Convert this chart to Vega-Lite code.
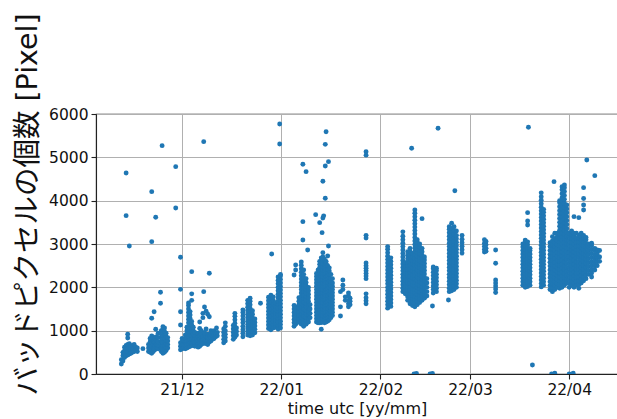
{
  "$schema": "https://vega.github.io/schema/vega-lite/v6.json",
  "width": 522,
  "height": 260,
  "autosize": {"type": "none"},
  "padding": {"left": 96, "top": 114, "right": 0, "bottom": 45},
  "background": "white",
  "config": {
    "view": {"stroke": "#222222", "strokeWidth": 1.1},
    "axis": {
      "domainColor": "#222222",
      "domainWidth": 1.1,
      "tickColor": "#222222",
      "tickSize": 5,
      "tickWidth": 1.1,
      "gridColor": "#b0b0b0",
      "gridWidth": 1,
      "labelFont": "DejaVu Sans",
      "labelFontSize": 15.5,
      "labelColor": "#111111",
      "titleFont": "DejaVu Sans",
      "titleFontSize": 16,
      "titleFontWeight": "normal",
      "titleColor": "#111111"
    }
  },
  "data": {
    "values": [
      {"t":"2021-11-12T00:00","v":230},{"t":"2021-11-12T00:00","v":330},
      {"t":"2021-11-12T12:00","v":300},{"t":"2021-11-12T12:00","v":420},{"t":"2021-11-12T12:00","v":500},
      {"t":"2021-11-13T00:00","v":380},{"t":"2021-11-13T00:00","v":460},{"t":"2021-11-13T00:00","v":540},{"t":"2021-11-13T00:00","v":620},
      {"t":"2021-11-13T12:00","v":420},{"t":"2021-11-13T12:00","v":500},{"t":"2021-11-13T12:00","v":580},{"t":"2021-11-13T12:00","v":660},{"t":"2021-11-13T12:00","v":4640},{"t":"2021-11-13T12:00","v":3654},
      {"t":"2021-11-14T00:00","v":440},{"t":"2021-11-14T00:00","v":520},{"t":"2021-11-14T00:00","v":600},{"t":"2021-11-14T00:00","v":680},{"t":"2021-11-14T00:00","v":830},{"t":"2021-11-14T00:00","v":920},
      {"t":"2021-11-14T12:00","v":460},{"t":"2021-11-14T12:00","v":540},{"t":"2021-11-14T12:00","v":620},{"t":"2021-11-14T12:00","v":700},{"t":"2021-11-14T12:00","v":2954},
      {"t":"2021-11-15T00:00","v":480},{"t":"2021-11-15T00:00","v":560},{"t":"2021-11-15T00:00","v":640},
      {"t":"2021-11-15T12:00","v":500},{"t":"2021-11-15T12:00","v":580},{"t":"2021-11-15T12:00","v":660},
      {"t":"2021-11-16T00:00","v":520},{"t":"2021-11-16T00:00","v":600},{"t":"2021-11-16T00:00","v":680},
      {"t":"2021-11-16T12:00","v":540},{"t":"2021-11-16T12:00","v":620},
      {"t":"2021-11-17T00:00","v":520},{"t":"2021-11-17T00:00","v":600},
      {"t":"2021-11-18T18:00","v":585},
      {"t":"2021-11-20T12:00","v":520},{"t":"2021-11-20T12:00","v":600},{"t":"2021-11-20T12:00","v":680},
      {"t":"2021-11-21T00:00","v":500},{"t":"2021-11-21T00:00","v":580},{"t":"2021-11-21T00:00","v":660},{"t":"2021-11-21T00:00","v":740},{"t":"2021-11-21T00:00","v":820},
      {"t":"2021-11-21T12:00","v":480},{"t":"2021-11-21T12:00","v":560},{"t":"2021-11-21T12:00","v":640},{"t":"2021-11-21T12:00","v":720},{"t":"2021-11-21T12:00","v":800},{"t":"2021-11-21T12:00","v":880},{"t":"2021-11-21T12:00","v":1285},{"t":"2021-11-21T12:00","v":3054},{"t":"2021-11-21T12:00","v":4208},
      {"t":"2021-11-22T00:00","v":520},{"t":"2021-11-22T00:00","v":600},{"t":"2021-11-22T00:00","v":680},{"t":"2021-11-22T00:00","v":760},{"t":"2021-11-22T00:00","v":850},
      {"t":"2021-11-22T06:00","v":1438},
      {"t":"2021-11-22T12:00","v":560},{"t":"2021-11-22T12:00","v":650},{"t":"2021-11-22T12:00","v":740},{"t":"2021-11-22T12:00","v":820},
      {"t":"2021-11-22T18:00","v":1031},{"t":"2021-11-22T18:00","v":3616},
      {"t":"2021-11-23T00:00","v":600},{"t":"2021-11-23T00:00","v":680},{"t":"2021-11-23T00:00","v":760},{"t":"2021-11-23T00:00","v":860},
      {"t":"2021-11-23T12:00","v":580},{"t":"2021-11-23T12:00","v":660},{"t":"2021-11-23T12:00","v":740},{"t":"2021-11-23T12:00","v":840},{"t":"2021-11-23T12:00","v":940},
      {"t":"2021-11-24T06:00","v":1631},{"t":"2021-11-24T06:00","v":1885},
      {"t":"2021-11-24T12:00","v":520},{"t":"2021-11-24T12:00","v":600},{"t":"2021-11-24T12:00","v":680},{"t":"2021-11-24T12:00","v":760},{"t":"2021-11-24T12:00","v":840},{"t":"2021-11-24T12:00","v":920},{"t":"2021-11-24T12:00","v":1000},
      {"t":"2021-11-24T18:00","v":5270},
      {"t":"2021-11-25T00:00","v":480},{"t":"2021-11-25T00:00","v":560},{"t":"2021-11-25T00:00","v":640},{"t":"2021-11-25T00:00","v":720},{"t":"2021-11-25T00:00","v":800},{"t":"2021-11-25T00:00","v":880},{"t":"2021-11-25T00:00","v":960},{"t":"2021-11-25T00:00","v":1040},{"t":"2021-11-25T00:00","v":1090},
      {"t":"2021-11-25T12:00","v":500},{"t":"2021-11-25T12:00","v":580},{"t":"2021-11-25T12:00","v":660},{"t":"2021-11-25T12:00","v":740},{"t":"2021-11-25T12:00","v":820},{"t":"2021-11-25T12:00","v":900},{"t":"2021-11-25T12:00","v":980},{"t":"2021-11-25T12:00","v":1060},
      {"t":"2021-11-26T00:00","v":540},{"t":"2021-11-26T00:00","v":620},{"t":"2021-11-26T00:00","v":700},{"t":"2021-11-26T00:00","v":780},{"t":"2021-11-26T00:00","v":860},{"t":"2021-11-26T00:00","v":940},
      {"t":"2021-11-26T12:00","v":600},{"t":"2021-11-26T12:00","v":680},{"t":"2021-11-26T12:00","v":760},{"t":"2021-11-26T12:00","v":840},
      {"t":"2021-11-29T00:00","v":4785},{"t":"2021-11-29T00:00","v":3831},
      {"t":"2021-11-30T12:00","v":2693},{"t":"2021-11-30T12:00","v":1954},{"t":"2021-11-30T12:00","v":1438},{"t":"2021-11-30T12:00","v":1131},{"t":"2021-11-30T12:00","v":560},{"t":"2021-11-30T12:00","v":640},{"t":"2021-11-30T12:00","v":720},
      {"t":"2021-12-01T00:00","v":580},{"t":"2021-12-01T00:00","v":660},{"t":"2021-12-01T00:00","v":740},{"t":"2021-12-01T00:00","v":820},
      {"t":"2021-12-01T12:00","v":600},{"t":"2021-12-01T12:00","v":680},{"t":"2021-12-01T12:00","v":760},
      {"t":"2021-12-02T00:00","v":580},{"t":"2021-12-02T00:00","v":660},{"t":"2021-12-02T00:00","v":740},{"t":"2021-12-02T00:00","v":820},{"t":"2021-12-02T00:00","v":900},
      {"t":"2021-12-02T12:00","v":600},{"t":"2021-12-02T12:00","v":680},{"t":"2021-12-02T12:00","v":760},{"t":"2021-12-02T12:00","v":840},{"t":"2021-12-02T12:00","v":920},{"t":"2021-12-02T12:00","v":1000},{"t":"2021-12-02T12:00","v":1080},
      {"t":"2021-12-03T00:00","v":620},{"t":"2021-12-03T00:00","v":700},{"t":"2021-12-03T00:00","v":780},{"t":"2021-12-03T00:00","v":860},{"t":"2021-12-03T00:00","v":940},{"t":"2021-12-03T00:00","v":1020},{"t":"2021-12-03T00:00","v":1100},{"t":"2021-12-03T00:00","v":1180},{"t":"2021-12-03T00:00","v":1260},{"t":"2021-12-03T00:00","v":1340},{"t":"2021-12-03T00:00","v":1420},{"t":"2021-12-03T00:00","v":1500},{"t":"2021-12-03T00:00","v":1580},{"t":"2021-12-03T00:00","v":1640},
      {"t":"2021-12-03T12:00","v":640},{"t":"2021-12-03T12:00","v":720},{"t":"2021-12-03T12:00","v":800},{"t":"2021-12-03T12:00","v":880},{"t":"2021-12-03T12:00","v":960},{"t":"2021-12-03T12:00","v":1040},{"t":"2021-12-03T12:00","v":1120},{"t":"2021-12-03T12:00","v":1200},{"t":"2021-12-03T12:00","v":1280},{"t":"2021-12-03T12:00","v":1360},{"t":"2021-12-03T12:00","v":1440},
      {"t":"2021-12-04T00:00","v":650},{"t":"2021-12-04T00:00","v":730},{"t":"2021-12-04T00:00","v":810},{"t":"2021-12-04T00:00","v":890},{"t":"2021-12-04T00:00","v":970},{"t":"2021-12-04T00:00","v":1050},{"t":"2021-12-04T00:00","v":1130},{"t":"2021-12-04T00:00","v":1210},{"t":"2021-12-04T00:00","v":1700},{"t":"2021-12-04T00:00","v":1850},{"t":"2021-12-04T00:00","v":2362},
      {"t":"2021-12-04T12:00","v":680},{"t":"2021-12-04T12:00","v":760},{"t":"2021-12-04T12:00","v":840},{"t":"2021-12-04T12:00","v":920},{"t":"2021-12-04T12:00","v":1000},{"t":"2021-12-04T12:00","v":1080},
      {"t":"2021-12-05T00:00","v":640},{"t":"2021-12-05T00:00","v":720},{"t":"2021-12-05T00:00","v":800},{"t":"2021-12-05T00:00","v":880},{"t":"2021-12-05T00:00","v":960},
      {"t":"2021-12-05T12:00","v":660},{"t":"2021-12-05T12:00","v":740},{"t":"2021-12-05T12:00","v":820},
      {"t":"2021-12-06T00:00","v":620},{"t":"2021-12-06T00:00","v":700},{"t":"2021-12-06T00:00","v":780},{"t":"2021-12-06T00:00","v":860},{"t":"2021-12-06T00:00","v":940},
      {"t":"2021-12-06T12:00","v":640},{"t":"2021-12-06T12:00","v":720},{"t":"2021-12-06T12:00","v":800},{"t":"2021-12-06T12:00","v":880},{"t":"2021-12-06T12:00","v":1050},{"t":"2021-12-06T12:00","v":1200},
      {"t":"2021-12-07T00:00","v":680},{"t":"2021-12-07T00:00","v":760},{"t":"2021-12-07T00:00","v":840},{"t":"2021-12-07T00:00","v":920},{"t":"2021-12-07T00:00","v":1000},
      {"t":"2021-12-07T12:00","v":700},{"t":"2021-12-07T12:00","v":780},{"t":"2021-12-07T12:00","v":860},{"t":"2021-12-07T12:00","v":1300},{"t":"2021-12-07T12:00","v":1400},
      {"t":"2021-12-07T18:00","v":5362},{"t":"2021-12-07T18:00","v":1900},
      {"t":"2021-12-08T00:00","v":720},{"t":"2021-12-08T00:00","v":800},{"t":"2021-12-08T00:00","v":880},{"t":"2021-12-08T00:00","v":960},{"t":"2021-12-08T00:00","v":1546},
      {"t":"2021-12-08T12:00","v":700},{"t":"2021-12-08T12:00","v":780},{"t":"2021-12-08T12:00","v":860},{"t":"2021-12-08T12:00","v":1040},{"t":"2021-12-08T12:00","v":1450},
      {"t":"2021-12-09T00:00","v":680},{"t":"2021-12-09T00:00","v":760},{"t":"2021-12-09T00:00","v":840},{"t":"2021-12-09T00:00","v":920},{"t":"2021-12-09T00:00","v":1380},
      {"t":"2021-12-09T12:00","v":740},{"t":"2021-12-09T12:00","v":820},{"t":"2021-12-09T12:00","v":900},{"t":"2021-12-09T12:00","v":1320},{"t":"2021-12-09T12:00","v":2324},
      {"t":"2021-12-10T00:00","v":760},{"t":"2021-12-10T00:00","v":840},{"t":"2021-12-10T00:00","v":920},{"t":"2021-12-10T00:00","v":1000},
      {"t":"2021-12-10T12:00","v":800},{"t":"2021-12-10T12:00","v":880},{"t":"2021-12-10T12:00","v":960},
      {"t":"2021-12-11T00:00","v":820},{"t":"2021-12-11T00:00","v":900},{"t":"2021-12-11T00:00","v":1000},
      {"t":"2021-12-11T12:00","v":860},{"t":"2021-12-11T12:00","v":940},
      {"t":"2021-12-11T18:00","v":1062},
      {"t":"2021-12-12T00:00","v":880},{"t":"2021-12-12T00:00","v":960},
      {"t":"2021-12-14T00:00","v":720},{"t":"2021-12-14T00:00","v":800},{"t":"2021-12-14T00:00","v":880},{"t":"2021-12-14T00:00","v":960},{"t":"2021-12-14T00:00","v":1040},
      {"t":"2021-12-14T12:00","v":760},{"t":"2021-12-14T12:00","v":840},{"t":"2021-12-14T12:00","v":920},{"t":"2021-12-14T12:00","v":1000},{"t":"2021-12-14T12:00","v":1100},{"t":"2021-12-14T12:00","v":1180},
      {"t":"2021-12-17T00:00","v":800},{"t":"2021-12-17T00:00","v":880},{"t":"2021-12-17T00:00","v":960},{"t":"2021-12-17T00:00","v":1040},{"t":"2021-12-17T00:00","v":1120},
      {"t":"2021-12-17T12:00","v":850},{"t":"2021-12-17T12:00","v":930},{"t":"2021-12-17T12:00","v":1010},{"t":"2021-12-17T12:00","v":1090},{"t":"2021-12-17T12:00","v":1170},{"t":"2021-12-17T12:00","v":1250},{"t":"2021-12-17T12:00","v":1330},{"t":"2021-12-17T12:00","v":1400},
      {"t":"2021-12-18T00:00","v":900},{"t":"2021-12-18T00:00","v":980},{"t":"2021-12-18T00:00","v":1060},
      {"t":"2021-12-20T00:00","v":860},{"t":"2021-12-20T00:00","v":940},{"t":"2021-12-20T00:00","v":1020},{"t":"2021-12-20T00:00","v":1100},{"t":"2021-12-20T00:00","v":1180},{"t":"2021-12-20T00:00","v":1260},{"t":"2021-12-20T00:00","v":1340},{"t":"2021-12-20T00:00","v":1420},{"t":"2021-12-20T00:00","v":1480},
      {"t":"2021-12-21T12:00","v":900},{"t":"2021-12-21T12:00","v":980},{"t":"2021-12-21T12:00","v":1060},{"t":"2021-12-21T12:00","v":1140},{"t":"2021-12-21T12:00","v":1220},{"t":"2021-12-21T12:00","v":1300},{"t":"2021-12-21T12:00","v":1380},{"t":"2021-12-21T12:00","v":1460},{"t":"2021-12-21T12:00","v":1540},{"t":"2021-12-21T12:00","v":1620},{"t":"2021-12-21T12:00","v":1700},
      {"t":"2021-12-22T06:00","v":880},{"t":"2021-12-22T06:00","v":960},{"t":"2021-12-22T06:00","v":1040},{"t":"2021-12-22T06:00","v":1120},{"t":"2021-12-22T06:00","v":1200},{"t":"2021-12-22T06:00","v":1280},{"t":"2021-12-22T06:00","v":1360},{"t":"2021-12-22T06:00","v":1440},{"t":"2021-12-22T06:00","v":1520},{"t":"2021-12-22T06:00","v":1600},{"t":"2021-12-22T06:00","v":1680},{"t":"2021-12-22T06:00","v":1750},
      {"t":"2021-12-23T00:00","v":900},{"t":"2021-12-23T00:00","v":980},{"t":"2021-12-23T00:00","v":1060},{"t":"2021-12-23T00:00","v":1140},{"t":"2021-12-23T00:00","v":1220},{"t":"2021-12-23T00:00","v":1300},{"t":"2021-12-23T00:00","v":1380},{"t":"2021-12-23T00:00","v":1460},
      {"t":"2021-12-23T18:00","v":950},{"t":"2021-12-23T18:00","v":1030},{"t":"2021-12-23T18:00","v":1110},{"t":"2021-12-23T18:00","v":1190},{"t":"2021-12-23T18:00","v":1270},
      {"t":"2021-12-25T12:00","v":1631},
      {"t":"2021-12-28T00:00","v":1050},{"t":"2021-12-28T00:00","v":1130},{"t":"2021-12-28T00:00","v":1210},{"t":"2021-12-28T00:00","v":1290},{"t":"2021-12-28T00:00","v":1370},{"t":"2021-12-28T00:00","v":1450},{"t":"2021-12-28T00:00","v":1530},{"t":"2021-12-28T00:00","v":1610},{"t":"2021-12-28T00:00","v":1690},{"t":"2021-12-28T00:00","v":1770},
      {"t":"2021-12-28T18:00","v":1020},{"t":"2021-12-28T18:00","v":1100},{"t":"2021-12-28T18:00","v":1180},{"t":"2021-12-28T18:00","v":1260},{"t":"2021-12-28T18:00","v":1340},{"t":"2021-12-28T18:00","v":1420},{"t":"2021-12-28T18:00","v":1500},{"t":"2021-12-28T18:00","v":1580},{"t":"2021-12-28T18:00","v":1660},{"t":"2021-12-28T18:00","v":1740},{"t":"2021-12-28T18:00","v":1820},
      {"t":"2021-12-29T00:00","v":2770},
      {"t":"2021-12-29T12:00","v":1060},{"t":"2021-12-29T12:00","v":1140},{"t":"2021-12-29T12:00","v":1220},{"t":"2021-12-29T12:00","v":1300},{"t":"2021-12-29T12:00","v":1380},{"t":"2021-12-29T12:00","v":1460},{"t":"2021-12-29T12:00","v":1540},{"t":"2021-12-29T12:00","v":1620},{"t":"2021-12-29T12:00","v":1700},{"t":"2021-12-29T12:00","v":1780},
      {"t":"2021-12-30T06:00","v":1080},{"t":"2021-12-30T06:00","v":1160},{"t":"2021-12-30T06:00","v":1240},{"t":"2021-12-30T06:00","v":1320},{"t":"2021-12-30T06:00","v":1400},{"t":"2021-12-30T06:00","v":1480},{"t":"2021-12-30T06:00","v":1560},{"t":"2021-12-30T06:00","v":1640},
      {"t":"2021-12-31T00:00","v":1040},{"t":"2021-12-31T00:00","v":1120},{"t":"2021-12-31T00:00","v":1200},{"t":"2021-12-31T00:00","v":1280},{"t":"2021-12-31T00:00","v":1360},{"t":"2021-12-31T00:00","v":1440},{"t":"2021-12-31T00:00","v":1520},{"t":"2021-12-31T00:00","v":1600},{"t":"2021-12-31T00:00","v":1680},{"t":"2021-12-31T00:00","v":1760},{"t":"2021-12-31T00:00","v":1840},{"t":"2021-12-31T00:00","v":1920},{"t":"2021-12-31T00:00","v":2000},{"t":"2021-12-31T00:00","v":2080},{"t":"2021-12-31T00:00","v":2160},{"t":"2021-12-31T00:00","v":2240},
      {"t":"2021-12-31T12:00","v":5770},{"t":"2021-12-31T12:00","v":5308},
      {"t":"2021-12-31T18:00","v":1060},{"t":"2021-12-31T18:00","v":1140},{"t":"2021-12-31T18:00","v":1220},{"t":"2021-12-31T18:00","v":1300},{"t":"2021-12-31T18:00","v":1380},{"t":"2021-12-31T18:00","v":1460},{"t":"2021-12-31T18:00","v":1540},{"t":"2021-12-31T18:00","v":1620},{"t":"2021-12-31T18:00","v":1700},{"t":"2021-12-31T18:00","v":1780},{"t":"2021-12-31T18:00","v":1860},{"t":"2021-12-31T18:00","v":1940},{"t":"2021-12-31T18:00","v":2020},{"t":"2021-12-31T18:00","v":2100},{"t":"2021-12-31T18:00","v":2180},{"t":"2021-12-31T18:00","v":2260},{"t":"2021-12-31T18:00","v":2300},
      {"t":"2022-01-05T00:00","v":1100},{"t":"2022-01-05T00:00","v":1180},{"t":"2022-01-05T00:00","v":1260},{"t":"2022-01-05T00:00","v":1340},{"t":"2022-01-05T00:00","v":1420},{"t":"2022-01-05T00:00","v":1500},{"t":"2022-01-05T00:00","v":1580},{"t":"2022-01-05T00:00","v":2285},
      {"t":"2022-01-05T12:00","v":1150},{"t":"2022-01-05T12:00","v":1230},{"t":"2022-01-05T12:00","v":1310},{"t":"2022-01-05T12:00","v":1390},{"t":"2022-01-05T12:00","v":1470},{"t":"2022-01-05T12:00","v":1550},{"t":"2022-01-05T12:00","v":2400},{"t":"2022-01-05T12:00","v":2516},
      {"t":"2022-01-06T12:00","v":1200},{"t":"2022-01-06T12:00","v":1280},{"t":"2022-01-06T12:00","v":1360},{"t":"2022-01-06T12:00","v":1440},{"t":"2022-01-06T12:00","v":1520},{"t":"2022-01-06T12:00","v":1600},{"t":"2022-01-06T12:00","v":1680},{"t":"2022-01-06T12:00","v":1760},
      {"t":"2022-01-07T06:00","v":1150},{"t":"2022-01-07T06:00","v":1230},{"t":"2022-01-07T06:00","v":1310},{"t":"2022-01-07T06:00","v":1390},{"t":"2022-01-07T06:00","v":1470},{"t":"2022-01-07T06:00","v":1550},{"t":"2022-01-07T06:00","v":1630},{"t":"2022-01-07T06:00","v":1710},{"t":"2022-01-07T06:00","v":1790},{"t":"2022-01-07T06:00","v":1870},{"t":"2022-01-07T06:00","v":1950},{"t":"2022-01-07T06:00","v":2030},{"t":"2022-01-07T06:00","v":2110},{"t":"2022-01-07T06:00","v":2190},{"t":"2022-01-07T06:00","v":2270},{"t":"2022-01-07T06:00","v":2350},{"t":"2022-01-07T06:00","v":2430},{"t":"2022-01-07T06:00","v":2510},{"t":"2022-01-07T06:00","v":2585},
      {"t":"2022-01-07T18:00","v":4840},{"t":"2022-01-07T18:00","v":3516},{"t":"2022-01-07T18:00","v":3093},
      {"t":"2022-01-08T00:00","v":1100},{"t":"2022-01-08T00:00","v":1180},{"t":"2022-01-08T00:00","v":1260},{"t":"2022-01-08T00:00","v":1340},{"t":"2022-01-08T00:00","v":1420},{"t":"2022-01-08T00:00","v":1500},{"t":"2022-01-08T00:00","v":1580},{"t":"2022-01-08T00:00","v":1660},{"t":"2022-01-08T00:00","v":1740},{"t":"2022-01-08T00:00","v":1820},{"t":"2022-01-08T00:00","v":1900},{"t":"2022-01-08T00:00","v":1980},{"t":"2022-01-08T00:00","v":2060},{"t":"2022-01-08T00:00","v":2140},{"t":"2022-01-08T00:00","v":2220},{"t":"2022-01-08T00:00","v":2300},{"t":"2022-01-08T00:00","v":2400},
      {"t":"2022-01-08T18:00","v":4670},{"t":"2022-01-08T18:00","v":1150},{"t":"2022-01-08T18:00","v":1230},{"t":"2022-01-08T18:00","v":1310},{"t":"2022-01-08T18:00","v":1390},{"t":"2022-01-08T18:00","v":1470},{"t":"2022-01-08T18:00","v":1550},{"t":"2022-01-08T18:00","v":1630},{"t":"2022-01-08T18:00","v":1710},{"t":"2022-01-08T18:00","v":1790},{"t":"2022-01-08T18:00","v":1870},{"t":"2022-01-08T18:00","v":1950},{"t":"2022-01-08T18:00","v":2030},{"t":"2022-01-08T18:00","v":2110},{"t":"2022-01-08T18:00","v":2200},
      {"t":"2022-01-09T06:00","v":2862},
      {"t":"2022-01-09T12:00","v":1200},{"t":"2022-01-09T12:00","v":1280},{"t":"2022-01-09T12:00","v":1360},{"t":"2022-01-09T12:00","v":1440},{"t":"2022-01-09T12:00","v":1520},{"t":"2022-01-09T12:00","v":1600},{"t":"2022-01-09T12:00","v":1680},{"t":"2022-01-09T12:00","v":1760},{"t":"2022-01-09T12:00","v":1840},{"t":"2022-01-09T12:00","v":1920},{"t":"2022-01-09T12:00","v":2000},
      {"t":"2022-01-10T00:00","v":1300},{"t":"2022-01-10T00:00","v":1400},{"t":"2022-01-10T00:00","v":1500},{"t":"2022-01-10T00:00","v":1600},
      {"t":"2022-01-11T18:00","v":3677},
      {"t":"2022-01-12T00:00","v":1200},{"t":"2022-01-12T00:00","v":1275},{"t":"2022-01-12T00:00","v":1350},{"t":"2022-01-12T00:00","v":1425},{"t":"2022-01-12T00:00","v":1500},{"t":"2022-01-12T00:00","v":1575},{"t":"2022-01-12T00:00","v":1650},{"t":"2022-01-12T00:00","v":1725},{"t":"2022-01-12T00:00","v":1800},{"t":"2022-01-12T00:00","v":1875},{"t":"2022-01-12T00:00","v":1950},{"t":"2022-01-12T00:00","v":2025},{"t":"2022-01-12T00:00","v":2100},{"t":"2022-01-12T00:00","v":2175},{"t":"2022-01-12T00:00","v":2250},{"t":"2022-01-12T00:00","v":2320},
      {"t":"2022-01-12T12:00","v":1180},{"t":"2022-01-12T12:00","v":1255},{"t":"2022-01-12T12:00","v":1330},{"t":"2022-01-12T12:00","v":1405},{"t":"2022-01-12T12:00","v":1480},{"t":"2022-01-12T12:00","v":1555},{"t":"2022-01-12T12:00","v":1630},{"t":"2022-01-12T12:00","v":1705},{"t":"2022-01-12T12:00","v":1780},{"t":"2022-01-12T12:00","v":1855},{"t":"2022-01-12T12:00","v":1930},{"t":"2022-01-12T12:00","v":2005},{"t":"2022-01-12T12:00","v":2080},{"t":"2022-01-12T12:00","v":2155},{"t":"2022-01-12T12:00","v":2230},{"t":"2022-01-12T12:00","v":2305},{"t":"2022-01-12T12:00","v":2400},
      {"t":"2022-01-13T00:00","v":1180},{"t":"2022-01-13T00:00","v":1255},{"t":"2022-01-13T00:00","v":1330},{"t":"2022-01-13T00:00","v":1405},{"t":"2022-01-13T00:00","v":1480},{"t":"2022-01-13T00:00","v":1555},{"t":"2022-01-13T00:00","v":1630},{"t":"2022-01-13T00:00","v":1705},{"t":"2022-01-13T00:00","v":1780},{"t":"2022-01-13T00:00","v":1855},{"t":"2022-01-13T00:00","v":1930},{"t":"2022-01-13T00:00","v":2005},{"t":"2022-01-13T00:00","v":2080},{"t":"2022-01-13T00:00","v":2155},{"t":"2022-01-13T00:00","v":2230},{"t":"2022-01-13T00:00","v":2305},{"t":"2022-01-13T00:00","v":2380},{"t":"2022-01-13T00:00","v":2455},{"t":"2022-01-13T00:00","v":2530},{"t":"2022-01-13T00:00","v":2600},{"t":"2022-01-13T00:00","v":3493},
      {"t":"2022-01-13T12:00","v":1031},{"t":"2022-01-13T12:00","v":1190},{"t":"2022-01-13T12:00","v":1265},{"t":"2022-01-13T12:00","v":1340},{"t":"2022-01-13T12:00","v":1415},{"t":"2022-01-13T12:00","v":1490},{"t":"2022-01-13T12:00","v":1565},{"t":"2022-01-13T12:00","v":1640},{"t":"2022-01-13T12:00","v":1715},{"t":"2022-01-13T12:00","v":1790},{"t":"2022-01-13T12:00","v":1865},{"t":"2022-01-13T12:00","v":1940},{"t":"2022-01-13T12:00","v":2015},{"t":"2022-01-13T12:00","v":2090},{"t":"2022-01-13T12:00","v":2165},{"t":"2022-01-13T12:00","v":2240},{"t":"2022-01-13T12:00","v":2315},{"t":"2022-01-13T12:00","v":2390},{"t":"2022-01-13T12:00","v":2465},{"t":"2022-01-13T12:00","v":2540},{"t":"2022-01-13T12:00","v":2615},{"t":"2022-01-13T12:00","v":2680},
      {"t":"2022-01-13T18:00","v":3262},
      {"t":"2022-01-14T00:00","v":1200},{"t":"2022-01-14T00:00","v":1275},{"t":"2022-01-14T00:00","v":1350},{"t":"2022-01-14T00:00","v":1425},{"t":"2022-01-14T00:00","v":1500},{"t":"2022-01-14T00:00","v":1575},{"t":"2022-01-14T00:00","v":1650},{"t":"2022-01-14T00:00","v":1725},{"t":"2022-01-14T00:00","v":1800},{"t":"2022-01-14T00:00","v":1875},{"t":"2022-01-14T00:00","v":1950},{"t":"2022-01-14T00:00","v":2025},{"t":"2022-01-14T00:00","v":2100},{"t":"2022-01-14T00:00","v":2175},{"t":"2022-01-14T00:00","v":2250},{"t":"2022-01-14T00:00","v":2325},{"t":"2022-01-14T00:00","v":2400},{"t":"2022-01-14T00:00","v":2475},{"t":"2022-01-14T00:00","v":2550},{"t":"2022-01-14T00:00","v":2625},{"t":"2022-01-14T00:00","v":2700},{"t":"2022-01-14T00:00","v":2800},{"t":"2022-01-14T00:00","v":4447},{"t":"2022-01-14T00:00","v":3600},
      {"t":"2022-01-14T06:00","v":3650},
      {"t":"2022-01-14T12:00","v":1180},{"t":"2022-01-14T12:00","v":1255},{"t":"2022-01-14T12:00","v":1330},{"t":"2022-01-14T12:00","v":1405},{"t":"2022-01-14T12:00","v":1480},{"t":"2022-01-14T12:00","v":1555},{"t":"2022-01-14T12:00","v":1630},{"t":"2022-01-14T12:00","v":1705},{"t":"2022-01-14T12:00","v":1780},{"t":"2022-01-14T12:00","v":1855},{"t":"2022-01-14T12:00","v":1930},{"t":"2022-01-14T12:00","v":2005},{"t":"2022-01-14T12:00","v":2080},{"t":"2022-01-14T12:00","v":2155},{"t":"2022-01-14T12:00","v":2230},{"t":"2022-01-14T12:00","v":2305},{"t":"2022-01-14T12:00","v":2380},{"t":"2022-01-14T12:00","v":2455},{"t":"2022-01-14T12:00","v":2530},{"t":"2022-01-14T12:00","v":2605},{"t":"2022-01-14T12:00","v":2650},
      {"t":"2022-01-14T18:00","v":5300},{"t":"2022-01-14T18:00","v":4800},{"t":"2022-01-14T18:00","v":4055},
      {"t":"2022-01-15T00:00","v":1200},{"t":"2022-01-15T00:00","v":1275},{"t":"2022-01-15T00:00","v":1350},{"t":"2022-01-15T00:00","v":1425},{"t":"2022-01-15T00:00","v":1500},{"t":"2022-01-15T00:00","v":1575},{"t":"2022-01-15T00:00","v":1650},{"t":"2022-01-15T00:00","v":1725},{"t":"2022-01-15T00:00","v":1800},{"t":"2022-01-15T00:00","v":1875},{"t":"2022-01-15T00:00","v":1950},{"t":"2022-01-15T00:00","v":2025},{"t":"2022-01-15T00:00","v":2100},{"t":"2022-01-15T00:00","v":2175},{"t":"2022-01-15T00:00","v":2250},{"t":"2022-01-15T00:00","v":2325},{"t":"2022-01-15T00:00","v":2400},{"t":"2022-01-15T00:00","v":2475},{"t":"2022-01-15T00:00","v":2550},{"t":"2022-01-15T00:00","v":2600},{"t":"2022-01-15T00:00","v":5592},
      {"t":"2022-01-15T12:00","v":1220},{"t":"2022-01-15T12:00","v":1295},{"t":"2022-01-15T12:00","v":1370},{"t":"2022-01-15T12:00","v":1445},{"t":"2022-01-15T12:00","v":1520},{"t":"2022-01-15T12:00","v":1595},{"t":"2022-01-15T12:00","v":1670},{"t":"2022-01-15T12:00","v":1745},{"t":"2022-01-15T12:00","v":1820},{"t":"2022-01-15T12:00","v":1895},{"t":"2022-01-15T12:00","v":1970},{"t":"2022-01-15T12:00","v":2045},{"t":"2022-01-15T12:00","v":2120},{"t":"2022-01-15T12:00","v":2195},{"t":"2022-01-15T12:00","v":2270},{"t":"2022-01-15T12:00","v":2345},{"t":"2022-01-15T12:00","v":2420},{"t":"2022-01-15T12:00","v":2500},{"t":"2022-01-15T12:00","v":2723},
      {"t":"2022-01-15T18:00","v":4900},{"t":"2022-01-15T18:00","v":2954},
      {"t":"2022-01-16T00:00","v":1250},{"t":"2022-01-16T00:00","v":1325},{"t":"2022-01-16T00:00","v":1400},{"t":"2022-01-16T00:00","v":1475},{"t":"2022-01-16T00:00","v":1550},{"t":"2022-01-16T00:00","v":1625},{"t":"2022-01-16T00:00","v":1700},{"t":"2022-01-16T00:00","v":1775},{"t":"2022-01-16T00:00","v":1850},{"t":"2022-01-16T00:00","v":1925},{"t":"2022-01-16T00:00","v":2000},{"t":"2022-01-16T00:00","v":2075},{"t":"2022-01-16T00:00","v":2150},{"t":"2022-01-16T00:00","v":2225},{"t":"2022-01-16T00:00","v":2300},{"t":"2022-01-16T00:00","v":2375},{"t":"2022-01-16T00:00","v":2450},
      {"t":"2022-01-16T12:00","v":1300},{"t":"2022-01-16T12:00","v":1375},{"t":"2022-01-16T12:00","v":1450},{"t":"2022-01-16T12:00","v":1525},{"t":"2022-01-16T12:00","v":1600},{"t":"2022-01-16T12:00","v":1675},{"t":"2022-01-16T12:00","v":1750},{"t":"2022-01-16T12:00","v":1825},{"t":"2022-01-16T12:00","v":1900},{"t":"2022-01-16T12:00","v":1975},{"t":"2022-01-16T12:00","v":2050},{"t":"2022-01-16T12:00","v":2125},{"t":"2022-01-16T12:00","v":2200},{"t":"2022-01-16T12:00","v":2300},
      {"t":"2022-01-17T00:00","v":1350},{"t":"2022-01-17T00:00","v":1425},{"t":"2022-01-17T00:00","v":1500},{"t":"2022-01-17T00:00","v":1575},{"t":"2022-01-17T00:00","v":1650},{"t":"2022-01-17T00:00","v":1725},{"t":"2022-01-17T00:00","v":1800},{"t":"2022-01-17T00:00","v":1875},{"t":"2022-01-17T00:00","v":1950},{"t":"2022-01-17T00:00","v":2025},{"t":"2022-01-17T00:00","v":2100},{"t":"2022-01-17T00:00","v":2200},
      {"t":"2022-01-19T12:00","v":1340},{"t":"2022-01-19T12:00","v":1550},{"t":"2022-01-19T12:00","v":1900},
      {"t":"2022-01-20T06:00","v":2050},{"t":"2022-01-20T06:00","v":2170},{"t":"2022-01-20T06:00","v":1950},
      {"t":"2022-01-21T00:00","v":1700},{"t":"2022-01-21T00:00","v":1780},
      {"t":"2022-01-22T00:00","v":1550},{"t":"2022-01-22T00:00","v":1620},{"t":"2022-01-22T00:00","v":1700},{"t":"2022-01-22T00:00","v":1800},{"t":"2022-01-22T00:00","v":1870},
      {"t":"2022-01-22T12:00","v":1600},{"t":"2022-01-22T12:00","v":1680},{"t":"2022-01-22T12:00","v":1750},
      {"t":"2022-01-27T12:00","v":5130},{"t":"2022-01-27T12:00","v":5050},{"t":"2022-01-27T12:00","v":3200},{"t":"2022-01-27T12:00","v":3140},{"t":"2022-01-27T12:00","v":2560},{"t":"2022-01-27T12:00","v":2500},{"t":"2022-01-27T12:00","v":2440},{"t":"2022-01-27T12:00","v":2380},{"t":"2022-01-27T12:00","v":2320},{"t":"2022-01-27T12:00","v":2260},{"t":"2022-01-27T12:00","v":2200},{"t":"2022-01-27T12:00","v":1850},{"t":"2022-01-27T12:00","v":1760},{"t":"2022-01-27T12:00","v":1690},{"t":"2022-01-27T12:00","v":1620},
      {"t":"2022-02-03T06:00","v":1520},{"t":"2022-02-03T06:00","v":1600},{"t":"2022-02-03T06:00","v":1680},{"t":"2022-02-03T06:00","v":1760},{"t":"2022-02-03T06:00","v":1840},{"t":"2022-02-03T06:00","v":1920},{"t":"2022-02-03T06:00","v":2000},{"t":"2022-02-03T06:00","v":2080},{"t":"2022-02-03T06:00","v":2160},{"t":"2022-02-03T06:00","v":2240},{"t":"2022-02-03T06:00","v":2320},{"t":"2022-02-03T06:00","v":2400},{"t":"2022-02-03T06:00","v":2480},{"t":"2022-02-03T06:00","v":2560},{"t":"2022-02-03T06:00","v":2640},{"t":"2022-02-03T06:00","v":2720},{"t":"2022-02-03T06:00","v":2800},{"t":"2022-02-03T06:00","v":2880},{"t":"2022-02-03T06:00","v":2940},
      {"t":"2022-02-04T06:00","v":1560},{"t":"2022-02-04T06:00","v":1640},{"t":"2022-02-04T06:00","v":1720},{"t":"2022-02-04T06:00","v":1800},{"t":"2022-02-04T06:00","v":1880},{"t":"2022-02-04T06:00","v":1960},{"t":"2022-02-04T06:00","v":2040},{"t":"2022-02-04T06:00","v":2120},{"t":"2022-02-04T06:00","v":2200},{"t":"2022-02-04T06:00","v":2280},{"t":"2022-02-04T06:00","v":2360},{"t":"2022-02-04T06:00","v":2440},{"t":"2022-02-04T06:00","v":2520},{"t":"2022-02-04T06:00","v":2600},{"t":"2022-02-04T06:00","v":2680},
      {"t":"2022-02-08T00:00","v":1900},{"t":"2022-02-08T00:00","v":1980},{"t":"2022-02-08T00:00","v":2060},{"t":"2022-02-08T00:00","v":2140},{"t":"2022-02-08T00:00","v":2220},{"t":"2022-02-08T00:00","v":2300},{"t":"2022-02-08T00:00","v":2380},{"t":"2022-02-08T00:00","v":2460},{"t":"2022-02-08T00:00","v":2540},{"t":"2022-02-08T00:00","v":2620},{"t":"2022-02-08T00:00","v":2700},{"t":"2022-02-08T00:00","v":2780},{"t":"2022-02-08T00:00","v":2860},{"t":"2022-02-08T00:00","v":2940},{"t":"2022-02-08T00:00","v":3020},{"t":"2022-02-08T00:00","v":3100},{"t":"2022-02-08T00:00","v":3180},{"t":"2022-02-08T00:00","v":3280},
      {"t":"2022-02-08T18:00","v":1850},{"t":"2022-02-08T18:00","v":1930},{"t":"2022-02-08T18:00","v":2010},{"t":"2022-02-08T18:00","v":2090},{"t":"2022-02-08T18:00","v":2170},{"t":"2022-02-08T18:00","v":2250},{"t":"2022-02-08T18:00","v":2330},{"t":"2022-02-08T18:00","v":2410},{"t":"2022-02-08T18:00","v":2490},{"t":"2022-02-08T18:00","v":2570},
      {"t":"2022-02-09T12:00","v":1700},{"t":"2022-02-09T12:00","v":1780},{"t":"2022-02-09T12:00","v":1860},{"t":"2022-02-09T12:00","v":1940},{"t":"2022-02-09T12:00","v":2020},{"t":"2022-02-09T12:00","v":2100},{"t":"2022-02-09T12:00","v":2180},{"t":"2022-02-09T12:00","v":2260},{"t":"2022-02-09T12:00","v":2340},{"t":"2022-02-09T12:00","v":2420},{"t":"2022-02-09T12:00","v":2500},{"t":"2022-02-09T12:00","v":2580},{"t":"2022-02-09T12:00","v":2660},{"t":"2022-02-09T12:00","v":2740},{"t":"2022-02-09T12:00","v":2820},
      {"t":"2022-02-10T06:00","v":1620},{"t":"2022-02-10T06:00","v":1700},{"t":"2022-02-10T06:00","v":1780},{"t":"2022-02-10T06:00","v":1860},{"t":"2022-02-10T06:00","v":1940},{"t":"2022-02-10T06:00","v":2020},{"t":"2022-02-10T06:00","v":2100},{"t":"2022-02-10T06:00","v":2180},{"t":"2022-02-10T06:00","v":2260},{"t":"2022-02-10T06:00","v":2340},{"t":"2022-02-10T06:00","v":2420},{"t":"2022-02-10T06:00","v":2500},{"t":"2022-02-10T06:00","v":2580},{"t":"2022-02-10T06:00","v":2660},{"t":"2022-02-10T06:00","v":2740},{"t":"2022-02-10T06:00","v":2820},{"t":"2022-02-10T06:00","v":2900},
      {"t":"2022-02-10T18:00","v":5208},
      {"t":"2022-02-11T00:00","v":1580},{"t":"2022-02-11T00:00","v":1660},{"t":"2022-02-11T00:00","v":1740},{"t":"2022-02-11T00:00","v":1820},{"t":"2022-02-11T00:00","v":1900},{"t":"2022-02-11T00:00","v":1980},{"t":"2022-02-11T00:00","v":2060},{"t":"2022-02-11T00:00","v":2140},{"t":"2022-02-11T00:00","v":2220},{"t":"2022-02-11T00:00","v":2300},{"t":"2022-02-11T00:00","v":2380},{"t":"2022-02-11T00:00","v":2460},{"t":"2022-02-11T00:00","v":2540},{"t":"2022-02-11T00:00","v":2620},{"t":"2022-02-11T00:00","v":2700},{"t":"2022-02-11T00:00","v":2780},
      {"t":"2022-02-11T12:00","v":0},
      {"t":"2022-02-11T18:00","v":1550},{"t":"2022-02-11T18:00","v":1630},{"t":"2022-02-11T18:00","v":1710},{"t":"2022-02-11T18:00","v":1790},{"t":"2022-02-11T18:00","v":1870},{"t":"2022-02-11T18:00","v":1950},{"t":"2022-02-11T18:00","v":2030},{"t":"2022-02-11T18:00","v":2110},{"t":"2022-02-11T18:00","v":2190},{"t":"2022-02-11T18:00","v":2270},{"t":"2022-02-11T18:00","v":2350},{"t":"2022-02-11T18:00","v":2430},{"t":"2022-02-11T18:00","v":2510},{"t":"2022-02-11T18:00","v":2590},{"t":"2022-02-11T18:00","v":2670},{"t":"2022-02-11T18:00","v":2750},{"t":"2022-02-11T18:00","v":2830},{"t":"2022-02-11T18:00","v":2910},{"t":"2022-02-11T18:00","v":2990},{"t":"2022-02-11T18:00","v":3070},{"t":"2022-02-11T18:00","v":3150},{"t":"2022-02-11T18:00","v":3230},{"t":"2022-02-11T18:00","v":3310},{"t":"2022-02-11T18:00","v":3390},{"t":"2022-02-11T18:00","v":3470},{"t":"2022-02-11T18:00","v":3550},{"t":"2022-02-11T18:00","v":3630},{"t":"2022-02-11T18:00","v":3710},{"t":"2022-02-11T18:00","v":3785},
      {"t":"2022-02-12T06:00","v":15},
      {"t":"2022-02-12T12:00","v":1600},{"t":"2022-02-12T12:00","v":1680},{"t":"2022-02-12T12:00","v":1760},{"t":"2022-02-12T12:00","v":1840},{"t":"2022-02-12T12:00","v":1920},{"t":"2022-02-12T12:00","v":2000},{"t":"2022-02-12T12:00","v":2080},{"t":"2022-02-12T12:00","v":2160},{"t":"2022-02-12T12:00","v":2240},{"t":"2022-02-12T12:00","v":2320},{"t":"2022-02-12T12:00","v":2400},{"t":"2022-02-12T12:00","v":2480},{"t":"2022-02-12T12:00","v":2560},{"t":"2022-02-12T12:00","v":2640},{"t":"2022-02-12T12:00","v":2720},{"t":"2022-02-12T12:00","v":2800},{"t":"2022-02-12T12:00","v":2880},{"t":"2022-02-12T12:00","v":2960},{"t":"2022-02-12T12:00","v":3040},{"t":"2022-02-12T12:00","v":3100},
      {"t":"2022-02-13T06:00","v":1650},{"t":"2022-02-13T06:00","v":1730},{"t":"2022-02-13T06:00","v":1810},{"t":"2022-02-13T06:00","v":1890},{"t":"2022-02-13T06:00","v":1970},{"t":"2022-02-13T06:00","v":2050},{"t":"2022-02-13T06:00","v":2130},{"t":"2022-02-13T06:00","v":2210},{"t":"2022-02-13T06:00","v":2290},{"t":"2022-02-13T06:00","v":2370},{"t":"2022-02-13T06:00","v":2450},{"t":"2022-02-13T06:00","v":2530},{"t":"2022-02-13T06:00","v":2610},{"t":"2022-02-13T06:00","v":2690},{"t":"2022-02-13T06:00","v":2770},{"t":"2022-02-13T06:00","v":2850},{"t":"2022-02-13T06:00","v":2930},{"t":"2022-02-13T06:00","v":3000},
      {"t":"2022-02-14T00:00","v":1700},{"t":"2022-02-14T00:00","v":1780},{"t":"2022-02-14T00:00","v":1860},{"t":"2022-02-14T00:00","v":1940},{"t":"2022-02-14T00:00","v":2020},{"t":"2022-02-14T00:00","v":2100},{"t":"2022-02-14T00:00","v":2180},{"t":"2022-02-14T00:00","v":2260},{"t":"2022-02-14T00:00","v":2340},{"t":"2022-02-14T00:00","v":2420},{"t":"2022-02-14T00:00","v":2500},{"t":"2022-02-14T00:00","v":2580},{"t":"2022-02-14T00:00","v":2660},{"t":"2022-02-14T00:00","v":2740},{"t":"2022-02-14T00:00","v":2820},{"t":"2022-02-14T00:00","v":2900},{"t":"2022-02-14T00:00","v":3585},
      {"t":"2022-02-14T18:00","v":1750},{"t":"2022-02-14T18:00","v":1830},{"t":"2022-02-14T18:00","v":1910},{"t":"2022-02-14T18:00","v":1990},{"t":"2022-02-14T18:00","v":2070},{"t":"2022-02-14T18:00","v":2150},{"t":"2022-02-14T18:00","v":2230},{"t":"2022-02-14T18:00","v":2310},{"t":"2022-02-14T18:00","v":2390},{"t":"2022-02-14T18:00","v":2470},{"t":"2022-02-14T18:00","v":2550},{"t":"2022-02-14T18:00","v":2630},{"t":"2022-02-14T18:00","v":2700},
      {"t":"2022-02-15T12:00","v":1800},{"t":"2022-02-15T12:00","v":1900},{"t":"2022-02-15T12:00","v":2000},{"t":"2022-02-15T12:00","v":2100},{"t":"2022-02-15T12:00","v":2200},
      {"t":"2022-02-16T12:00","v":0},
      {"t":"2022-02-17T06:00","v":1570},{"t":"2022-02-17T06:00","v":10},
      {"t":"2022-02-17T12:00","v":1870},{"t":"2022-02-17T12:00","v":1950},{"t":"2022-02-17T12:00","v":2030},{"t":"2022-02-17T12:00","v":2110},{"t":"2022-02-17T12:00","v":2190},{"t":"2022-02-17T12:00","v":2270},{"t":"2022-02-17T12:00","v":2350},{"t":"2022-02-17T12:00","v":2430},{"t":"2022-02-17T12:00","v":2470},
      {"t":"2022-02-18T12:00","v":1900},{"t":"2022-02-18T12:00","v":1980},{"t":"2022-02-18T12:00","v":2060},{"t":"2022-02-18T12:00","v":2140},{"t":"2022-02-18T12:00","v":2220},{"t":"2022-02-18T12:00","v":2300},{"t":"2022-02-18T12:00","v":2380},{"t":"2022-02-18T12:00","v":2440},
      {"t":"2022-02-19T00:00","v":5670},
      {"t":"2022-02-22T06:00","v":1708},
      {"t":"2022-02-22T12:00","v":1900},{"t":"2022-02-22T12:00","v":1980},{"t":"2022-02-22T12:00","v":2060},{"t":"2022-02-22T12:00","v":2140},{"t":"2022-02-22T12:00","v":2220},{"t":"2022-02-22T12:00","v":2300},{"t":"2022-02-22T12:00","v":2380},{"t":"2022-02-22T12:00","v":2460},{"t":"2022-02-22T12:00","v":2540},{"t":"2022-02-22T12:00","v":2620},{"t":"2022-02-22T12:00","v":2700},{"t":"2022-02-22T12:00","v":2780},{"t":"2022-02-22T12:00","v":2860},{"t":"2022-02-22T12:00","v":2940},{"t":"2022-02-22T12:00","v":3020},{"t":"2022-02-22T12:00","v":3100},{"t":"2022-02-22T12:00","v":3180},{"t":"2022-02-22T12:00","v":3260},{"t":"2022-02-22T12:00","v":3340},{"t":"2022-02-22T12:00","v":3400},
      {"t":"2022-02-23T06:00","v":1920},{"t":"2022-02-23T06:00","v":2000},{"t":"2022-02-23T06:00","v":2080},{"t":"2022-02-23T06:00","v":2160},{"t":"2022-02-23T06:00","v":2240},{"t":"2022-02-23T06:00","v":2320},{"t":"2022-02-23T06:00","v":2400},{"t":"2022-02-23T06:00","v":2480},{"t":"2022-02-23T06:00","v":2560},{"t":"2022-02-23T06:00","v":2640},{"t":"2022-02-23T06:00","v":2720},{"t":"2022-02-23T06:00","v":2800},{"t":"2022-02-23T06:00","v":2880},{"t":"2022-02-23T06:00","v":2960},{"t":"2022-02-23T06:00","v":3040},{"t":"2022-02-23T06:00","v":3120},{"t":"2022-02-23T06:00","v":3200},{"t":"2022-02-23T06:00","v":3280},{"t":"2022-02-23T06:00","v":3360},{"t":"2022-02-23T06:00","v":3478},
      {"t":"2022-02-24T00:00","v":1950},{"t":"2022-02-24T00:00","v":2030},{"t":"2022-02-24T00:00","v":2110},{"t":"2022-02-24T00:00","v":2190},{"t":"2022-02-24T00:00","v":2270},{"t":"2022-02-24T00:00","v":2350},{"t":"2022-02-24T00:00","v":2430},{"t":"2022-02-24T00:00","v":2510},{"t":"2022-02-24T00:00","v":2590},{"t":"2022-02-24T00:00","v":2670},{"t":"2022-02-24T00:00","v":2750},{"t":"2022-02-24T00:00","v":2830},{"t":"2022-02-24T00:00","v":2910},{"t":"2022-02-24T00:00","v":2990},{"t":"2022-02-24T00:00","v":3070},{"t":"2022-02-24T00:00","v":3150},{"t":"2022-02-24T00:00","v":3230},{"t":"2022-02-24T00:00","v":3310},{"t":"2022-02-24T00:00","v":3400},
      {"t":"2022-02-24T06:00","v":4230},
      {"t":"2022-02-24T18:00","v":2000},{"t":"2022-02-24T18:00","v":2080},{"t":"2022-02-24T18:00","v":2160},{"t":"2022-02-24T18:00","v":2240},{"t":"2022-02-24T18:00","v":2320},{"t":"2022-02-24T18:00","v":2400},{"t":"2022-02-24T18:00","v":2480},{"t":"2022-02-24T18:00","v":2560},{"t":"2022-02-24T18:00","v":2640},{"t":"2022-02-24T18:00","v":2720},{"t":"2022-02-24T18:00","v":2800},{"t":"2022-02-24T18:00","v":2880},{"t":"2022-02-24T18:00","v":2960},{"t":"2022-02-24T18:00","v":3040},{"t":"2022-02-24T18:00","v":3120},{"t":"2022-02-24T18:00","v":3200},{"t":"2022-02-24T18:00","v":3300},
      {"t":"2022-02-26T12:00","v":2790},{"t":"2022-02-26T12:00","v":2870},{"t":"2022-02-26T12:00","v":2950},{"t":"2022-02-26T12:00","v":3030},{"t":"2022-02-26T12:00","v":3110},{"t":"2022-02-26T12:00","v":3200},
      {"t":"2022-03-05T12:00","v":2815},{"t":"2022-03-05T12:00","v":2880},{"t":"2022-03-05T12:00","v":2950},{"t":"2022-03-05T12:00","v":3020},{"t":"2022-03-05T12:00","v":3100},
      {"t":"2022-03-06T00:00","v":2830},{"t":"2022-03-06T00:00","v":2900},{"t":"2022-03-06T00:00","v":2980},{"t":"2022-03-06T00:00","v":3060},
      {"t":"2022-03-09T00:00","v":2862},{"t":"2022-03-09T00:00","v":2555},{"t":"2022-03-09T00:00","v":2170},{"t":"2022-03-09T00:00","v":2100},{"t":"2022-03-09T00:00","v":2030},{"t":"2022-03-09T00:00","v":1960},{"t":"2022-03-09T00:00","v":1880},
      {"t":"2022-03-17T12:00","v":2050},{"t":"2022-03-17T12:00","v":2130},{"t":"2022-03-17T12:00","v":2210},{"t":"2022-03-17T12:00","v":2290},{"t":"2022-03-17T12:00","v":2370},{"t":"2022-03-17T12:00","v":2450},{"t":"2022-03-17T12:00","v":2530},{"t":"2022-03-17T12:00","v":2610},{"t":"2022-03-17T12:00","v":2690},{"t":"2022-03-17T12:00","v":2770},{"t":"2022-03-17T12:00","v":2850},{"t":"2022-03-17T12:00","v":2930},{"t":"2022-03-17T12:00","v":3000},
      {"t":"2022-03-18T06:00","v":2000},{"t":"2022-03-18T06:00","v":2080},{"t":"2022-03-18T06:00","v":2160},{"t":"2022-03-18T06:00","v":2240},{"t":"2022-03-18T06:00","v":2320},{"t":"2022-03-18T06:00","v":2400},{"t":"2022-03-18T06:00","v":2480},{"t":"2022-03-18T06:00","v":2560},{"t":"2022-03-18T06:00","v":2640},{"t":"2022-03-18T06:00","v":2720},{"t":"2022-03-18T06:00","v":2800},{"t":"2022-03-18T06:00","v":2880},{"t":"2022-03-18T06:00","v":2960},{"t":"2022-03-18T06:00","v":3040},{"t":"2022-03-18T06:00","v":3090},
      {"t":"2022-03-19T00:00","v":2020},{"t":"2022-03-19T00:00","v":2100},{"t":"2022-03-19T00:00","v":2180},{"t":"2022-03-19T00:00","v":2260},{"t":"2022-03-19T00:00","v":2340},{"t":"2022-03-19T00:00","v":2420},{"t":"2022-03-19T00:00","v":2500},{"t":"2022-03-19T00:00","v":2580},{"t":"2022-03-19T00:00","v":2660},{"t":"2022-03-19T00:00","v":2740},{"t":"2022-03-19T00:00","v":2820},{"t":"2022-03-19T00:00","v":2900},{"t":"2022-03-19T00:00","v":2980},{"t":"2022-03-19T00:00","v":3050},{"t":"2022-03-19T00:00","v":3440},{"t":"2022-03-19T00:00","v":3530},{"t":"2022-03-19T00:00","v":3723},
      {"t":"2022-03-19T06:00","v":5693},
      {"t":"2022-03-19T18:00","v":2050},{"t":"2022-03-19T18:00","v":2130},{"t":"2022-03-19T18:00","v":2210},{"t":"2022-03-19T18:00","v":2290},{"t":"2022-03-19T18:00","v":2370},{"t":"2022-03-19T18:00","v":2450},{"t":"2022-03-19T18:00","v":2530},{"t":"2022-03-19T18:00","v":2610},{"t":"2022-03-19T18:00","v":2690},{"t":"2022-03-19T18:00","v":2770},{"t":"2022-03-19T18:00","v":2850},{"t":"2022-03-19T18:00","v":2900},
      {"t":"2022-03-20T12:00","v":208},
      {"t":"2022-03-23T06:00","v":2010},{"t":"2022-03-23T06:00","v":2090},{"t":"2022-03-23T06:00","v":2170},{"t":"2022-03-23T06:00","v":2250},{"t":"2022-03-23T06:00","v":2330},{"t":"2022-03-23T06:00","v":2410},{"t":"2022-03-23T06:00","v":2490},{"t":"2022-03-23T06:00","v":2570},{"t":"2022-03-23T06:00","v":2650},{"t":"2022-03-23T06:00","v":2730},{"t":"2022-03-23T06:00","v":2810},{"t":"2022-03-23T06:00","v":2890},{"t":"2022-03-23T06:00","v":2970},{"t":"2022-03-23T06:00","v":3050},{"t":"2022-03-23T06:00","v":3130},{"t":"2022-03-23T06:00","v":3210},{"t":"2022-03-23T06:00","v":3290},{"t":"2022-03-23T06:00","v":3370},{"t":"2022-03-23T06:00","v":3450},{"t":"2022-03-23T06:00","v":3530},{"t":"2022-03-23T06:00","v":3610},{"t":"2022-03-23T06:00","v":3690},{"t":"2022-03-23T06:00","v":3770},{"t":"2022-03-23T06:00","v":3850},{"t":"2022-03-23T06:00","v":3930},{"t":"2022-03-23T06:00","v":4010},{"t":"2022-03-23T06:00","v":4090},{"t":"2022-03-23T06:00","v":4180},
      {"t":"2022-03-24T00:00","v":2050},{"t":"2022-03-24T00:00","v":2130},{"t":"2022-03-24T00:00","v":2210},{"t":"2022-03-24T00:00","v":2290},{"t":"2022-03-24T00:00","v":2370},{"t":"2022-03-24T00:00","v":2450},{"t":"2022-03-24T00:00","v":2530},{"t":"2022-03-24T00:00","v":2610},{"t":"2022-03-24T00:00","v":2690},{"t":"2022-03-24T00:00","v":2770},{"t":"2022-03-24T00:00","v":2850},{"t":"2022-03-24T00:00","v":2930},{"t":"2022-03-24T00:00","v":3010},{"t":"2022-03-24T00:00","v":3090},{"t":"2022-03-24T00:00","v":3170},{"t":"2022-03-24T00:00","v":3250},{"t":"2022-03-24T00:00","v":3330},{"t":"2022-03-24T00:00","v":3410},{"t":"2022-03-24T00:00","v":3490},{"t":"2022-03-24T00:00","v":3570},{"t":"2022-03-24T00:00","v":3650},{"t":"2022-03-24T00:00","v":3730},{"t":"2022-03-24T00:00","v":3800},
      {"t":"2022-03-26T00:00","v":1950},{"t":"2022-03-26T00:00","v":2040},{"t":"2022-03-26T00:00","v":2130},{"t":"2022-03-26T00:00","v":2220},{"t":"2022-03-26T00:00","v":2310},{"t":"2022-03-26T00:00","v":2400},{"t":"2022-03-26T00:00","v":2490},{"t":"2022-03-26T00:00","v":2580},{"t":"2022-03-26T00:00","v":2670},{"t":"2022-03-26T00:00","v":2760},{"t":"2022-03-26T00:00","v":2850},{"t":"2022-03-26T00:00","v":2940},{"t":"2022-03-26T00:00","v":3030},
      {"t":"2022-03-26T12:00","v":0},
      {"t":"2022-03-26T18:00","v":1900},{"t":"2022-03-26T18:00","v":1990},{"t":"2022-03-26T18:00","v":2080},{"t":"2022-03-26T18:00","v":2170},{"t":"2022-03-26T18:00","v":2260},{"t":"2022-03-26T18:00","v":2350},{"t":"2022-03-26T18:00","v":2440},{"t":"2022-03-26T18:00","v":2530},{"t":"2022-03-26T18:00","v":2620},{"t":"2022-03-26T18:00","v":2710},{"t":"2022-03-26T18:00","v":2800},{"t":"2022-03-26T18:00","v":2890},{"t":"2022-03-26T18:00","v":2980},{"t":"2022-03-26T18:00","v":3070},{"t":"2022-03-26T18:00","v":3170},
      {"t":"2022-03-27T06:00","v":4439},
      {"t":"2022-03-27T12:00","v":20},{"t":"2022-03-27T12:00","v":1950},{"t":"2022-03-27T12:00","v":2040},{"t":"2022-03-27T12:00","v":2130},{"t":"2022-03-27T12:00","v":2220},{"t":"2022-03-27T12:00","v":2310},{"t":"2022-03-27T12:00","v":2400},{"t":"2022-03-27T12:00","v":2490},{"t":"2022-03-27T12:00","v":2580},{"t":"2022-03-27T12:00","v":2670},{"t":"2022-03-27T12:00","v":2760},{"t":"2022-03-27T12:00","v":2850},{"t":"2022-03-27T12:00","v":2940},{"t":"2022-03-27T12:00","v":3030},{"t":"2022-03-27T12:00","v":3120},{"t":"2022-03-27T12:00","v":3250},
      {"t":"2022-03-28T06:00","v":2000},{"t":"2022-03-28T06:00","v":2090},{"t":"2022-03-28T06:00","v":2180},{"t":"2022-03-28T06:00","v":2270},{"t":"2022-03-28T06:00","v":2360},{"t":"2022-03-28T06:00","v":2450},{"t":"2022-03-28T06:00","v":2540},{"t":"2022-03-28T06:00","v":2630},{"t":"2022-03-28T06:00","v":2720},{"t":"2022-03-28T06:00","v":2810},{"t":"2022-03-28T06:00","v":2900},{"t":"2022-03-28T06:00","v":2990},{"t":"2022-03-28T06:00","v":3080},{"t":"2022-03-28T06:00","v":3170},{"t":"2022-03-28T06:00","v":3250},
      {"t":"2022-03-29T00:00","v":1977},{"t":"2022-03-29T00:00","v":2060},{"t":"2022-03-29T00:00","v":2150},{"t":"2022-03-29T00:00","v":2240},{"t":"2022-03-29T00:00","v":2330},{"t":"2022-03-29T00:00","v":2420},{"t":"2022-03-29T00:00","v":2510},{"t":"2022-03-29T00:00","v":2600},{"t":"2022-03-29T00:00","v":2690},{"t":"2022-03-29T00:00","v":2780},{"t":"2022-03-29T00:00","v":2870},{"t":"2022-03-29T00:00","v":2960},{"t":"2022-03-29T00:00","v":3050},{"t":"2022-03-29T00:00","v":3140},{"t":"2022-03-29T00:00","v":3230},{"t":"2022-03-29T00:00","v":3320},{"t":"2022-03-29T00:00","v":3410},{"t":"2022-03-29T00:00","v":3500},{"t":"2022-03-29T00:00","v":3590},{"t":"2022-03-29T00:00","v":3680},{"t":"2022-03-29T00:00","v":3770},{"t":"2022-03-29T00:00","v":3860},{"t":"2022-03-29T00:00","v":3950},{"t":"2022-03-29T00:00","v":4000},
      {"t":"2022-03-29T18:00","v":2000},{"t":"2022-03-29T18:00","v":2090},{"t":"2022-03-29T18:00","v":2180},{"t":"2022-03-29T18:00","v":2270},{"t":"2022-03-29T18:00","v":2360},{"t":"2022-03-29T18:00","v":2450},{"t":"2022-03-29T18:00","v":2540},{"t":"2022-03-29T18:00","v":2630},{"t":"2022-03-29T18:00","v":2720},{"t":"2022-03-29T18:00","v":2810},{"t":"2022-03-29T18:00","v":2900},{"t":"2022-03-29T18:00","v":2990},{"t":"2022-03-29T18:00","v":3080},{"t":"2022-03-29T18:00","v":3170},{"t":"2022-03-29T18:00","v":3260},{"t":"2022-03-29T18:00","v":3350},{"t":"2022-03-29T18:00","v":3440},{"t":"2022-03-29T18:00","v":3530},{"t":"2022-03-29T18:00","v":3620},{"t":"2022-03-29T18:00","v":3710},{"t":"2022-03-29T18:00","v":3800},{"t":"2022-03-29T18:00","v":3890},{"t":"2022-03-29T18:00","v":3980},{"t":"2022-03-29T18:00","v":4070},{"t":"2022-03-29T18:00","v":4160},{"t":"2022-03-29T18:00","v":4250},{"t":"2022-03-29T18:00","v":4320},
      {"t":"2022-03-30T12:00","v":2050},{"t":"2022-03-30T12:00","v":2140},{"t":"2022-03-30T12:00","v":2230},{"t":"2022-03-30T12:00","v":2320},{"t":"2022-03-30T12:00","v":2410},{"t":"2022-03-30T12:00","v":2500},{"t":"2022-03-30T12:00","v":2590},{"t":"2022-03-30T12:00","v":2680},{"t":"2022-03-30T12:00","v":2770},{"t":"2022-03-30T12:00","v":2860},{"t":"2022-03-30T12:00","v":2950},{"t":"2022-03-30T12:00","v":3040},{"t":"2022-03-30T12:00","v":3130},{"t":"2022-03-30T12:00","v":3220},{"t":"2022-03-30T12:00","v":3310},{"t":"2022-03-30T12:00","v":3400},{"t":"2022-03-30T12:00","v":3490},{"t":"2022-03-30T12:00","v":3580},{"t":"2022-03-30T12:00","v":3670},{"t":"2022-03-30T12:00","v":3760},{"t":"2022-03-30T12:00","v":3850},{"t":"2022-03-30T12:00","v":3940},{"t":"2022-03-30T12:00","v":4030},{"t":"2022-03-30T12:00","v":4120},{"t":"2022-03-30T12:00","v":4210},{"t":"2022-03-30T12:00","v":4300},{"t":"2022-03-30T12:00","v":4360},
      {"t":"2022-03-31T06:00","v":2100},{"t":"2022-03-31T06:00","v":2190},{"t":"2022-03-31T06:00","v":2280},{"t":"2022-03-31T06:00","v":2370},{"t":"2022-03-31T06:00","v":2460},{"t":"2022-03-31T06:00","v":2550},{"t":"2022-03-31T06:00","v":2640},{"t":"2022-03-31T06:00","v":2730},{"t":"2022-03-31T06:00","v":2820},{"t":"2022-03-31T06:00","v":2910},{"t":"2022-03-31T06:00","v":3000},{"t":"2022-03-31T06:00","v":3090},{"t":"2022-03-31T06:00","v":3180},{"t":"2022-03-31T06:00","v":3270},{"t":"2022-03-31T06:00","v":3360},{"t":"2022-03-31T06:00","v":3450},{"t":"2022-03-31T06:00","v":3540},{"t":"2022-03-31T06:00","v":3630},{"t":"2022-03-31T06:00","v":3720},{"t":"2022-03-31T06:00","v":3810},{"t":"2022-03-31T06:00","v":3900},
      {"t":"2022-04-01T00:00","v":0},{"t":"2022-04-01T00:00","v":2000},{"t":"2022-04-01T00:00","v":2090},{"t":"2022-04-01T00:00","v":2180},{"t":"2022-04-01T00:00","v":2270},{"t":"2022-04-01T00:00","v":2360},{"t":"2022-04-01T00:00","v":2450},{"t":"2022-04-01T00:00","v":2540},{"t":"2022-04-01T00:00","v":2630},{"t":"2022-04-01T00:00","v":2720},{"t":"2022-04-01T00:00","v":2810},{"t":"2022-04-01T00:00","v":2900},{"t":"2022-04-01T00:00","v":2990},{"t":"2022-04-01T00:00","v":3080},{"t":"2022-04-01T00:00","v":3170},{"t":"2022-04-01T00:00","v":3250},
      {"t":"2022-04-01T18:00","v":2054},{"t":"2022-04-01T18:00","v":2140},{"t":"2022-04-01T18:00","v":2230},{"t":"2022-04-01T18:00","v":2320},{"t":"2022-04-01T18:00","v":2410},{"t":"2022-04-01T18:00","v":2500},{"t":"2022-04-01T18:00","v":2590},{"t":"2022-04-01T18:00","v":2680},{"t":"2022-04-01T18:00","v":2770},{"t":"2022-04-01T18:00","v":2860},{"t":"2022-04-01T18:00","v":2950},{"t":"2022-04-01T18:00","v":3040},{"t":"2022-04-01T18:00","v":3130},{"t":"2022-04-01T18:00","v":3220},{"t":"2022-04-01T18:00","v":3300},
      {"t":"2022-04-02T06:00","v":20},
      {"t":"2022-04-02T12:00","v":2000},{"t":"2022-04-02T12:00","v":2090},{"t":"2022-04-02T12:00","v":2180},{"t":"2022-04-02T12:00","v":2270},{"t":"2022-04-02T12:00","v":2360},{"t":"2022-04-02T12:00","v":2450},{"t":"2022-04-02T12:00","v":2540},{"t":"2022-04-02T12:00","v":2630},{"t":"2022-04-02T12:00","v":2720},{"t":"2022-04-02T12:00","v":2810},{"t":"2022-04-02T12:00","v":2900},{"t":"2022-04-02T12:00","v":2990},{"t":"2022-04-02T12:00","v":3080},{"t":"2022-04-02T12:00","v":3170},{"t":"2022-04-02T12:00","v":3250},{"t":"2022-04-02T12:00","v":3631},
      {"t":"2022-04-03T06:00","v":2050},{"t":"2022-04-03T06:00","v":2140},{"t":"2022-04-03T06:00","v":2230},{"t":"2022-04-03T06:00","v":2320},{"t":"2022-04-03T06:00","v":2410},{"t":"2022-04-03T06:00","v":2500},{"t":"2022-04-03T06:00","v":2590},{"t":"2022-04-03T06:00","v":2680},{"t":"2022-04-03T06:00","v":2770},{"t":"2022-04-03T06:00","v":2860},{"t":"2022-04-03T06:00","v":2950},{"t":"2022-04-03T06:00","v":3040},{"t":"2022-04-03T06:00","v":3130},{"t":"2022-04-03T06:00","v":3250},
      {"t":"2022-04-04T00:00","v":1977},{"t":"2022-04-04T00:00","v":2060},{"t":"2022-04-04T00:00","v":2150},{"t":"2022-04-04T00:00","v":2240},{"t":"2022-04-04T00:00","v":2330},{"t":"2022-04-04T00:00","v":2420},{"t":"2022-04-04T00:00","v":2510},{"t":"2022-04-04T00:00","v":2600},{"t":"2022-04-04T00:00","v":2690},{"t":"2022-04-04T00:00","v":2780},{"t":"2022-04-04T00:00","v":2870},{"t":"2022-04-04T00:00","v":2960},{"t":"2022-04-04T00:00","v":3050},{"t":"2022-04-04T00:00","v":3140},{"t":"2022-04-04T00:00","v":3200},{"t":"2022-04-04T00:00","v":3608},
      {"t":"2022-04-04T18:00","v":2100},{"t":"2022-04-04T18:00","v":2190},{"t":"2022-04-04T18:00","v":2280},{"t":"2022-04-04T18:00","v":2370},{"t":"2022-04-04T18:00","v":2460},{"t":"2022-04-04T18:00","v":2550},{"t":"2022-04-04T18:00","v":2640},{"t":"2022-04-04T18:00","v":2730},{"t":"2022-04-04T18:00","v":2820},{"t":"2022-04-04T18:00","v":2910},{"t":"2022-04-04T18:00","v":3000},{"t":"2022-04-04T18:00","v":3090},{"t":"2022-04-04T18:00","v":3180},{"t":"2022-04-04T18:00","v":3250},
      {"t":"2022-04-05T12:00","v":2150},{"t":"2022-04-05T12:00","v":2240},{"t":"2022-04-05T12:00","v":2330},{"t":"2022-04-05T12:00","v":2420},{"t":"2022-04-05T12:00","v":2510},{"t":"2022-04-05T12:00","v":2600},{"t":"2022-04-05T12:00","v":2690},{"t":"2022-04-05T12:00","v":2780},{"t":"2022-04-05T12:00","v":2870},{"t":"2022-04-05T12:00","v":2960},{"t":"2022-04-05T12:00","v":3050},{"t":"2022-04-05T12:00","v":3140},{"t":"2022-04-05T12:00","v":3200},{"t":"2022-04-05T12:00","v":3785},{"t":"2022-04-05T12:00","v":3900},{"t":"2022-04-05T12:00","v":4050},{"t":"2022-04-05T12:00","v":4300},
      {"t":"2022-04-06T06:00","v":2200},{"t":"2022-04-06T06:00","v":2290},{"t":"2022-04-06T06:00","v":2380},{"t":"2022-04-06T06:00","v":2470},{"t":"2022-04-06T06:00","v":2560},{"t":"2022-04-06T06:00","v":2650},{"t":"2022-04-06T06:00","v":2740},{"t":"2022-04-06T06:00","v":2830},{"t":"2022-04-06T06:00","v":2920},{"t":"2022-04-06T06:00","v":3010},{"t":"2022-04-06T06:00","v":3100},{"t":"2022-04-06T06:00","v":3150},
      {"t":"2022-04-06T12:00","v":4940},
      {"t":"2022-04-07T00:00","v":2300},{"t":"2022-04-07T00:00","v":2390},{"t":"2022-04-07T00:00","v":2480},{"t":"2022-04-07T00:00","v":2570},{"t":"2022-04-07T00:00","v":2660},{"t":"2022-04-07T00:00","v":2750},{"t":"2022-04-07T00:00","v":2840},{"t":"2022-04-07T00:00","v":2930},{"t":"2022-04-07T00:00","v":3000},
      {"t":"2022-04-08T00:00","v":2240},{"t":"2022-04-08T00:00","v":2330},{"t":"2022-04-08T00:00","v":2420},{"t":"2022-04-08T00:00","v":2510},{"t":"2022-04-08T00:00","v":2600},{"t":"2022-04-08T00:00","v":2690},{"t":"2022-04-08T00:00","v":2780},{"t":"2022-04-08T00:00","v":2870},{"t":"2022-04-08T00:00","v":2960},{"t":"2022-04-08T00:00","v":3020},
      {"t":"2022-04-09T00:00","v":2400},{"t":"2022-04-09T00:00","v":2490},{"t":"2022-04-09T00:00","v":2580},{"t":"2022-04-09T00:00","v":2670},{"t":"2022-04-09T00:00","v":2760},{"t":"2022-04-09T00:00","v":2850},{"t":"2022-04-09T00:00","v":2900},{"t":"2022-04-09T00:00","v":4577},
      {"t":"2022-04-09T18:00","v":2500},{"t":"2022-04-09T18:00","v":2590},{"t":"2022-04-09T18:00","v":2680},{"t":"2022-04-09T18:00","v":2770},{"t":"2022-04-09T18:00","v":2860},
      {"t":"2022-04-10T12:00","v":2600},{"t":"2022-04-10T12:00","v":2700},{"t":"2022-04-10T12:00","v":2850}
    ]
  },
  "mark": {"type": "circle", "size": 24, "color": "#1f77b4", "opacity": 1, "clip": true},
  "encoding": {
    "x": {
      "field": "t",
      "type": "temporal",
      "scale": {
        "domain": [
          {"year": 2021, "month": 11, "date": 4, "hours": 2},
          {"year": 2022, "month": 4, "date": 16, "hours": 6}
        ]
      },
      "axis": {
        "values": [
          {"year": 2021, "month": 12, "date": 1},
          {"year": 2022, "month": 1, "date": 1},
          {"year": 2022, "month": 2, "date": 1},
          {"year": 2022, "month": 3, "date": 1},
          {"year": 2022, "month": 4, "date": 1}
        ],
        "format": "%y/%m",
        "grid": true,
        "labelPadding": 3,
        "title": "time utc [yy/mm]",
        "titlePadding": 3
      }
    },
    "y": {
      "field": "v",
      "type": "quantitative",
      "scale": {"domain": [0, 6000], "nice": false},
      "axis": {
        "values": [0, 1000, 2000, 3000, 4000, 5000, 6000],
        "format": "d",
        "grid": true,
        "labelPadding": 3,
        "title": "バッドピクセルの個数 [Pixel]",
        "titleFont": "DejaVu Sans, Noto Sans CJK JP",
        "titleFontSize": 28.5,
        "titleAngle": 270,
        "titleAlign": "center",
        "titleBaseline": "middle",
        "titleX": -69,
        "titleY": 90
      }
    }
  }
}
